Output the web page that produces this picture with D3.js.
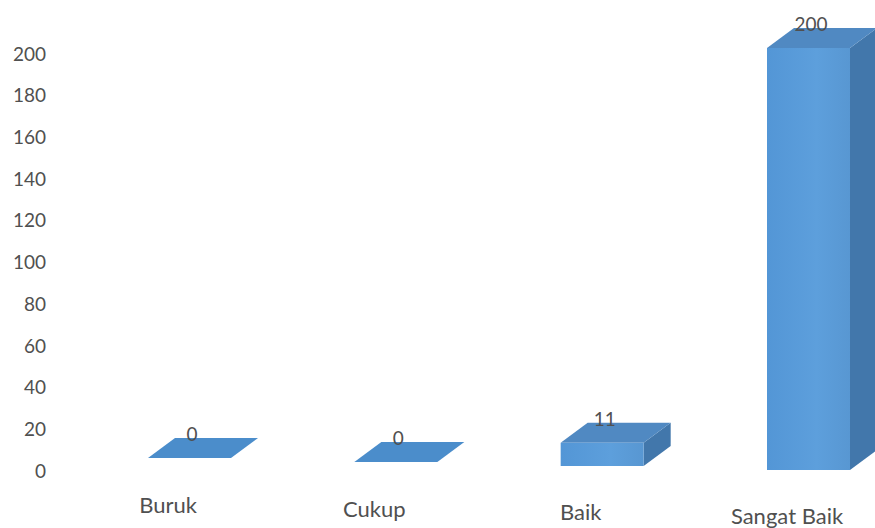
<!DOCTYPE html>
<html>
<head>
<meta charset="utf-8">
<script src="https://cdn.jsdelivr.net/npm/d3@7"></script>
<style>
html,body{margin:0;padding:0;background:#fff;}
svg{display:block;}
</style>
</head>
<body>
<svg id="chart" width="875" height="528"></svg>
<script>
const categories = ["Buruk", "Cukup", "Baik", "Sangat Baik"];
const values = [0, 0, 11, 200];
const valueLabels = ["0", "0", "11", "200"];
const yTicks = [0, 20, 40, 60, 80, 100, 120, 140, 160, 180, 200];

const svg = d3.select("#chart");

const yAxisScale = d3.scaleLinear().domain([0, 200]).range([471, 54]);
const hScale = d3.scaleLinear().domain([0, 200]).range([0, 422]);
const xScale = d3.scalePoint().domain(categories).range([148, 767]);
const baseScale = d3.scalePoint().domain(categories).range([458, 470]);
const labelBase = d3.scalePoint().domain(categories).range([513, 524]);

const barW = 83, dx = 27, dy = -20;
const colTop = "#5089c2", colSide = "#4277ab";
const font = "Lato, 'Open Sans', sans-serif";

svg.append("g").selectAll("text").data(yTicks).join("text")
  .attr("x", 46).attr("y", d => yAxisScale(d))
  .attr("dy", "0.35em")
  .attr("text-anchor", "end")
  .attr("font-family", font)
  .attr("font-size", 19)
  .attr("fill", "#505050")
  .text(d => d);

const defs = svg.append("defs");
const gf = defs.append("linearGradient").attr("id", "gFront").attr("x1", 0).attr("x2", 1).attr("y1", 0).attr("y2", 0);
gf.append("stop").attr("offset", "0%").attr("stop-color", "#5396d6");
gf.append("stop").attr("offset", "60%").attr("stop-color", "#5d9fdc");
gf.append("stop").attr("offset", "100%").attr("stop-color", "#5897d2");

const bars = svg.append("g").selectAll("g").data(categories).join("g");

bars.each(function(c, i) {
  const g = d3.select(this);
  const x0 = xScale(c);
  const yb = baseScale(c);
  const h = hScale(values[i]);
  const yt = yb - h;
  const x1 = x0 + barW;
  if (h > 0) {
    g.append("path")
      .attr("d", `M${x1},${yb} L${x1 + dx},${yb + dy} L${x1 + dx},${yt + dy} L${x1},${yt} Z`)
      .attr("fill", colSide);
  }
  g.append("path")
    .attr("d", `M${x0},${yt} L${x0 + dx},${yt + dy} L${x1 + dx},${yt + dy} L${x1},${yt} Z`)
    .attr("fill", h > 0 ? colTop : "#4b8dcb");
  if (h > 0) {
    g.append("rect")
      .attr("x", x0).attr("y", yt)
      .attr("width", barW).attr("height", h)
      .attr("fill", "url(#gFront)");
  }
  g.append("text")
    .attr("x", x0 + 44).attr("y", yt + dy + 3)
    .attr("text-anchor", "middle")
    .attr("font-family", font)
    .attr("font-size", 19)
    .attr("fill", "#505050")
    .text(valueLabels[i]);
  g.append("text")
    .attr("x", x0 + 20).attr("y", labelBase(c))
    .attr("text-anchor", "middle")
    .attr("font-family", font)
    .attr("font-size", 22)
    .attr("fill", "#505050")
    .text(c);
});
</script>
</body>
</html>
